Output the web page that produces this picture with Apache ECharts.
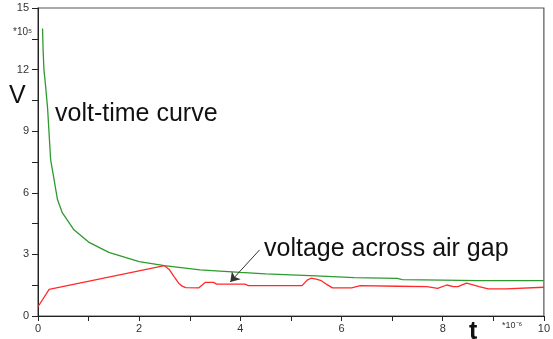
<!DOCTYPE html>
<html>
<head>
<meta charset="utf-8">
<script src="https://cdn.jsdelivr.net/npm/echarts@6/dist/echarts.min.js"></script>
<style>
  html, body { margin: 0; padding: 0; background: #fff; }
  #chart { width: 553px; height: 339px; }
</style>
</head>
<body>
<div id="chart"></div>
<script>
// volt-time curve (green), t in 1e-6 s, V in 1e5 V
const greenT = [0.09, 0.10, 0.117, 0.15, 0.19, 0.25, 0.30, 0.385, 0.48, 0.71, 1.0, 1.4, 2.0, 2.5, 3.2, 4.0, 4.5, 5.5, 6.25, 7.1, 7.2, 8.0, 8.7, 10];
const greenV = [14.0, 13.0, 12.0, 11.2, 10.1, 7.6, 6.9, 5.67, 5.03, 4.2, 3.6, 3.1, 2.65, 2.45, 2.25, 2.12, 2.05, 1.95, 1.87, 1.83, 1.77, 1.75, 1.72, 1.72];

// voltage across air gap (red)
const redT = [0, 0.22, 2.5, 2.6, 2.69, 2.78, 2.85, 2.92, 3.18, 3.31, 3.47, 3.53, 4.09, 4.16, 5.22, 5.32, 5.4, 5.5, 5.6, 5.7, 5.82, 6.2, 6.37, 7.1, 7.69, 7.9, 8.08, 8.21, 8.3, 8.47, 8.6, 8.72, 8.9, 9.25, 9.28, 10];
const redV = [0.45, 1.3, 2.45, 2.25, 1.92, 1.6, 1.45, 1.38, 1.37, 1.64, 1.64, 1.55, 1.55, 1.48, 1.48, 1.75, 1.84, 1.8, 1.72, 1.55, 1.37, 1.37, 1.48, 1.45, 1.43, 1.35, 1.51, 1.43, 1.43, 1.6, 1.51, 1.43, 1.32, 1.32, 1.4, 1.4];

const xTicks = [0, 2, 4, 6, 8, 10];
const yTicks = [0, 3, 6, 9, 12, 15];

// arrow annotation, data coords
const arrowFrom = [4.38, 3.22];
const arrowTo = [3.8, 1.66];

const pairs = (xs, ys) => xs.map((x, i) => [x, ys[i]]);

const font = '"Liberation Sans", Arial, sans-serif';
const labelStyle = { color: '#333', fontSize: 11, fontFamily: font };

const chart = echarts.init(document.getElementById('chart'));
chart.setOption({
  animation: false,
  grid: {
    left: 38, right: 4, top: 8, bottom: 23,
    show: true, borderColor: '#555', borderWidth: 1.2,
  },
  xAxis: {
    type: 'value',
    min: xTicks[0],
    max: xTicks[xTicks.length - 1],
    interval: xTicks[1] - xTicks[0],
    axisLine: { lineStyle: { color: '#222', width: 1 } },
    axisTick: { length: 5, lineStyle: { color: '#222' } },
    minorTick: { show: true, splitNumber: 2, length: 5, lineStyle: { color: '#222' } },
    splitLine: { show: false },
    axisLabel: { ...labelStyle, margin: 7 },
  },
  yAxis: {
    type: 'value',
    min: yTicks[0],
    max: yTicks[yTicks.length - 1],
    interval: yTicks[1] - yTicks[0],
    axisLine: { show: true, lineStyle: { color: '#222', width: 1 } },
    axisTick: { show: true, length: 6, lineStyle: { color: '#222' } },
    minorTick: { show: true, splitNumber: 2, length: 6, lineStyle: { color: '#222' } },
    splitLine: { show: false },
    axisLabel: { ...labelStyle, margin: 9 },
  },
  series: [
    {
      name: 'volt-time curve',
      type: 'line',
      data: pairs(greenT, greenV),
      showSymbol: false,
      lineStyle: { color: '#2e9a2e', width: 1.3 },
    },
    {
      name: 'voltage across air gap',
      type: 'line',
      data: pairs(redT, redV),
      showSymbol: false,
      lineStyle: { color: '#ff2a2a', width: 1.3 },
      markLine: {
        silent: true,
        symbol: ['none', 'arrow'],
        symbolSize: 9,
        label: { show: false },
        lineStyle: { color: '#333', width: 1, type: 'solid' },
        data: [[{ coord: arrowFrom }, { coord: arrowTo }]],
      },
    },
  ],
  graphic: [
    { type: 'text', left: 9, top: 84, style: { text: 'V', font: '25px ' + font, fill: '#111' } },
    { type: 'text', left: 55, top: 102, style: { text: 'volt-time curve', font: '25px ' + font, fill: '#111' } },
    { type: 'text', left: 264, top: 237, style: { text: 'voltage across air gap', font: '25px ' + font, fill: '#111' } },
    { type: 'text', left: 469, top: 320, style: { text: 't', font: 'bold 25px ' + font, fill: '#111' } },
    { type: 'text', left: 13, top: 27, style: { text: '*10⁵', font: '10px ' + font, fill: '#333' } },
    { type: 'text', left: 502, top: 321, style: { text: '*10⁻⁶', font: '9px ' + font, fill: '#333' } },
  ],
});
</script>
</body>
</html>
